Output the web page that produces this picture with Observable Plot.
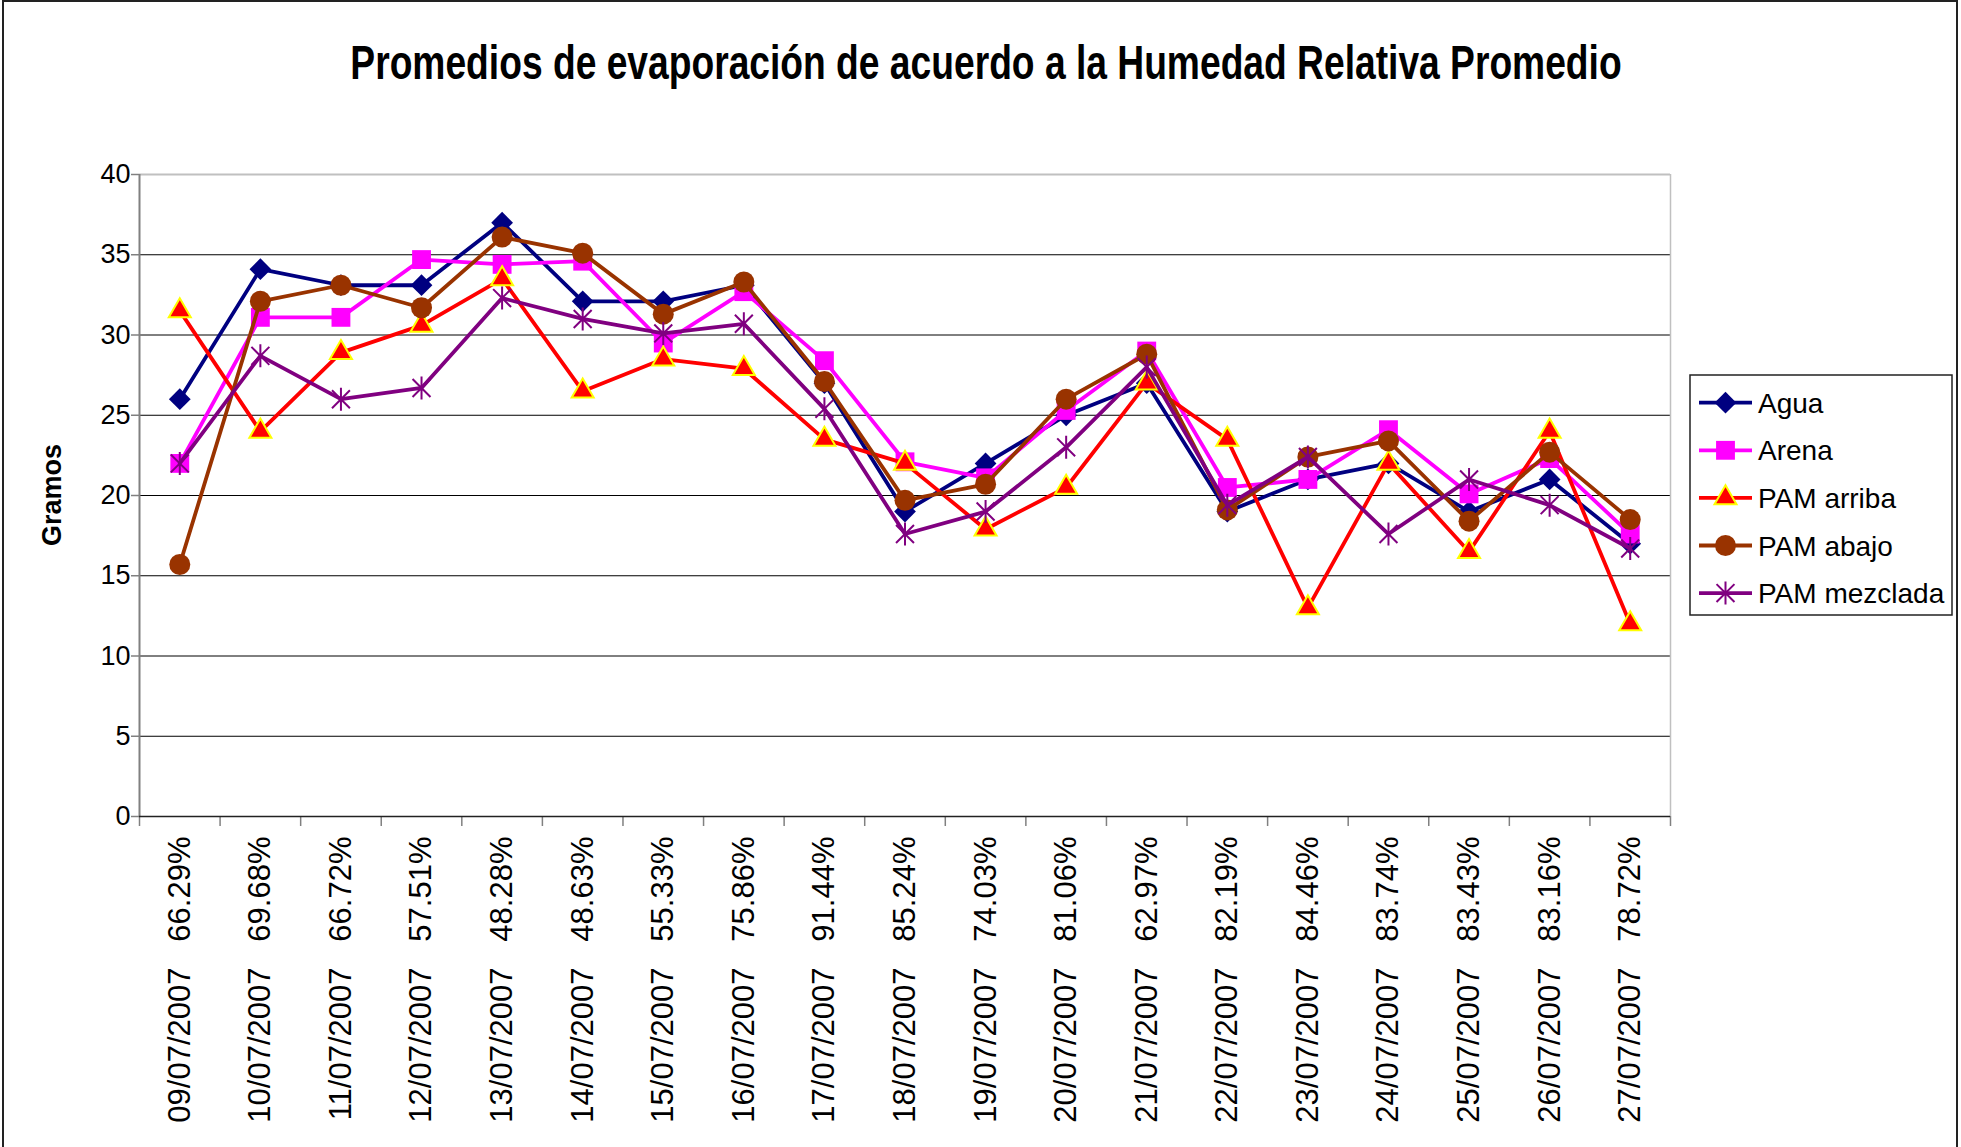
<!DOCTYPE html>
<html>
<head>
<meta charset="utf-8">
<script src="https://cdn.jsdelivr.net/npm/d3@7"></script>
<script src="https://cdn.jsdelivr.net/npm/@observablehq/plot@0.6"></script>
<style>
  html, body { margin: 0; padding: 0; background: #fff; }
  #chart { position: relative; width: 1961px; height: 1147px; overflow: hidden; }
</style>
</head>
<body>
<div id="chart"></div>
<script>
// ---- Data ----
const title = "Promedios de evaporación de acuerdo a la Humedad Relativa Promedio";
const yLabel = "Gramos";
const dates = ["09/07/2007","10/07/2007","11/07/2007","12/07/2007","13/07/2007","14/07/2007","15/07/2007","16/07/2007","17/07/2007","18/07/2007","19/07/2007","20/07/2007","21/07/2007","22/07/2007","23/07/2007","24/07/2007","25/07/2007","26/07/2007","27/07/2007"];
const humidity = ["66.29%","69.68%","66.72%","57.51%","48.28%","48.63%","55.33%","75.86%","91.44%","85.24%","74.03%","81.06%","62.97%","82.19%","84.46%","83.74%","83.43%","83.16%","78.72%"];
const seriesNames = ["Agua","Arena","PAM arriba","PAM abajo","PAM mezclada"];
const agua     = [26.0, 34.1, 33.1, 33.1, 37.0, 32.1, 32.1, 33.1, 27.0, 19.0, 22.0, 25.0, 27.0, 19.0, 21.0, 22.0, 19.0, 21.0, 17.0];
const arena    = [22.0, 31.1, 31.1, 34.7, 34.4, 34.6, 29.5, 32.7, 28.4, 22.1, 21.1, 25.3, 29.0, 20.5, 21.0, 24.1, 20.1, 22.3, 17.6];
const arriba   = [31.5, 24.0, 28.9, 30.6, 33.5, 26.5, 28.5, 27.9, 23.5, 22.0, 17.9, 20.5, 27.0, 23.5, 13.0, 22.0, 16.5, 24.0, 12.0];
const abajo    = [15.7, 32.1, 33.1, 31.7, 36.1, 35.1, 31.3, 33.3, 27.1, 19.7, 20.7, 26.0, 28.8, 19.1, 22.4, 23.4, 18.4, 22.7, 18.5];
const mezclada = [22.0, 28.7, 26.0, 26.7, 32.3, 31.0, 30.1, 30.7, 25.4, 17.6, 19.0, 23.0, 28.0, 19.4, 22.4, 17.6, 21.0, 19.4, 16.7];
const yTicks = [0, 5, 10, 15, 20, 25, 30, 35, 40];

// ---- Styling ----
const FONT = "'Liberation Sans', Arial, Helvetica, sans-serif";
const asterisk = {
  draw(context, size) {
    const r = Math.sqrt(size / Math.PI);
    const d = r * 0.78;
    context.moveTo(0, -r); context.lineTo(0, r);
    context.moveTo(-d, -d); context.lineTo(d, d);
    context.moveTo(d, -d); context.lineTo(-d, d);
  }
};
const styles = [
  {values: agua,     color: "#000080", symbol: "diamond2",  r: 9.8,  fill: "#000080", stroke: "none"},
  {values: arena,    color: "#FF00FF", symbol: "square2",   r: 12,   fill: "#FF00FF", stroke: "none"},
  {values: arriba,   color: "#FF0000", symbol: "triangle2", r: 10.5, fill: "#FF0000", stroke: "#FFFF00", sw: 2},
  {values: abajo,    color: "#993300", symbol: "circle",    r: 10.5, fill: "#993300", stroke: "none"},
  {values: mezclada, color: "#800080", symbol: asterisk,    r: 11.5, fill: "none",    stroke: "#800080", sw: 2}
];

const idx = d3.range(dates.length);
const boundaries = d3.range(dates.length + 1).map(k => k - 0.5);

const seriesMarks = [];
styles.forEach((s, k) => {
  const data = idx.map(i => ({i, v: s.values[i]}));
  seriesMarks.push(Plot.line(data, {x: "i", y: "v", stroke: s.color, strokeWidth: 3.8, strokeLinejoin: "round"}));
  seriesMarks.push(Plot.dot(data, {x: "i", y: "v", symbol: s.symbol, r: s.r, fill: s.fill, stroke: s.stroke, strokeWidth: s.sw || 1}));
});

const chart = Plot.plot({
  width: 1961,
  height: 1147,
  marginLeft: 139,
  marginRight: 291,
  marginTop: 174,
  marginBottom: 331,
  x: {type: "linear", domain: [-0.5, dates.length - 0.5]},
  y: {domain: [0, 40]},
  style: {fontFamily: FONT, background: "white", color: "black"},
  marks: [
    Plot.ruleY(yTicks.filter(v => v > 0 && v < 40), {stroke: "#000", strokeWidth: 1}),
    Plot.ruleY([40], {stroke: "#c0c0c0", strokeWidth: 2}),
    Plot.ruleX([dates.length - 0.5], {stroke: "#c0c0c0", strokeWidth: 1.5}),
    Plot.axisY({ticks: yTicks, tickSize: 8, tickPadding: 1, fontSize: 27, stroke: "#808080", strokeWidth: 1.5, fill: "black", label: null, tickFormat: d => String(d)}),
    Plot.axisX({ticks: boundaries, tickSize: 10, stroke: "#808080", strokeWidth: 1.5, tickFormat: () => "", label: null}),
    Plot.axisX({ticks: idx, tickSize: 0, tickPadding: 20, tickRotate: -90, fontSize: 31, fill: "black", label: null,
                tickFormat: i => dates[i] + "\u00a0\u00a0\u00a0" + humidity[i]}),
    Plot.ruleX([-0.5], {stroke: "#808080", strokeWidth: 2}),
    Plot.ruleY([0], {stroke: "#222", strokeWidth: 1.5}),
    ...seriesMarks
  ]
});

document.getElementById("chart").appendChild(chart);

// ---- Decorations: title, y label, legend, outer border ----
const svg = d3.select(chart);
svg.append("rect").attr("x", 3).attr("y", 1).attr("width", 1954).attr("height", 1200)
  .attr("fill", "none").attr("stroke", "#222").attr("stroke-width", 2);

svg.append("text")
  .attr("transform", "translate(986,79) scale(0.775,1)")
  .attr("text-anchor", "middle")
  .attr("font-family", FONT).attr("font-weight", "bold").attr("font-size", 48)
  .attr("fill", "black")
  .text(title);

svg.append("text")
  .attr("transform", "translate(61,495) rotate(-90)")
  .attr("text-anchor", "middle")
  .attr("font-family", FONT).attr("font-weight", "bold").attr("font-size", 27)
  .attr("fill", "black")
  .text(yLabel);

const lg = svg.append("g").attr("text-anchor", "start");
lg.append("rect").attr("x", 1690).attr("y", 375).attr("width", 262).attr("height", 240)
  .attr("fill", "white").attr("stroke", "#222").attr("stroke-width", 1.5);
const symMap = {diamond2: d3.symbolDiamond2, square2: d3.symbolSquare2, triangle2: d3.symbolTriangle2, circle: d3.symbolCircle};
styles.forEach((s, k) => {
  const cy = 402.7 + k * 47.6;
  lg.append("line").attr("x1", 1699).attr("x2", 1752).attr("y1", cy).attr("y2", cy)
    .attr("stroke", s.color).attr("stroke-width", 3.8);
  const symType = typeof s.symbol === "string" ? symMap[s.symbol] : s.symbol;
  lg.append("path")
    .attr("transform", `translate(1725.5,${cy})`)
    .attr("d", d3.symbol(symType, Math.PI * s.r * s.r)())
    .attr("fill", s.fill).attr("stroke", s.stroke).attr("stroke-width", s.sw || 1);
  lg.append("text").attr("x", 1758).attr("y", cy + 10)
    .attr("text-anchor", "start")
    .attr("font-family", FONT).attr("font-size", 28).attr("fill", "black")
    .text(seriesNames[k]);
});
</script>
</body>
</html>
